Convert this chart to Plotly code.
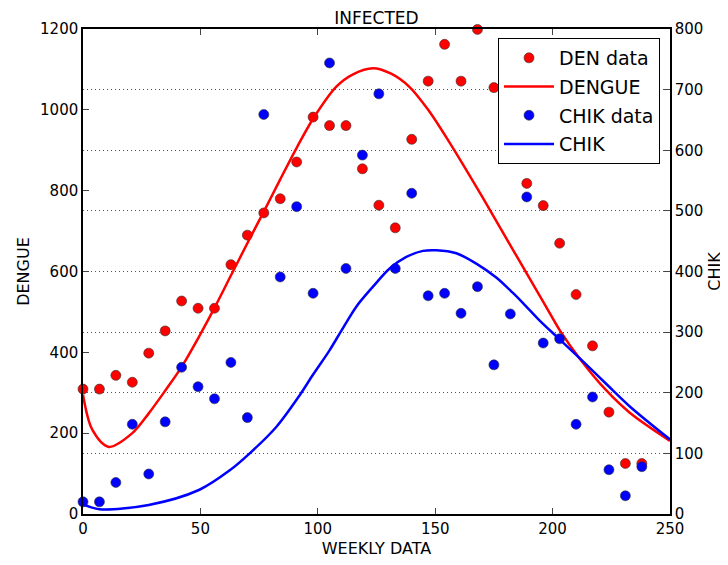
import plotly.graph_objects as go

# weekly observations (x in days, step 7)
weeks = [0, 7, 14, 21, 28, 35, 42, 49, 56, 63, 70, 77, 84, 91, 98, 105, 112, 119,
         126, 133, 140, 147, 154, 161, 168, 175, 182, 189, 196, 203, 210, 217, 224, 231, 238]
den_data = [309, 309, 343, 326, 398, 453, 527, 509, 509, 617, 690, 745, 780, 871, 982, 961, 961, 854,
            764, 708, 927, 1071, 1162, 1071, 1199, 1055, 990, 818, 763, 670, 543, 416, 252, 125, 125]
chik_data = [20, 20, 52, 148, 66, 152, 242, 210, 190, 250, 159, 659, 391, 507, 364, 744, 405, 592,
             693, 405, 529, 360, 364, 331, 375, 246, 330, 523, 282, 289, 148, 193, 73, 30, 78]

# fitted model curves
den_t = [0, 4, 11, 21, 28, 35, 42, 50, 56, 63, 70, 77, 84, 91, 98, 108, 115, 123.5, 131, 139,
         147, 156, 170, 183, 197, 203, 211.5, 223, 233, 250]
den_fit = [295, 208, 166, 200, 249, 305, 364, 445, 510, 590, 670, 748, 828, 906, 978, 1058, 1088, 1103,
           1090, 1057, 1000, 920, 785, 655, 515, 455, 385, 305, 250, 181]
chik_t = [0, 7, 28, 49.6, 62.5, 71, 82.4, 92.3, 98, 105, 110, 116.4, 123.5, 130.6, 137.7, 144.8,
          150.5, 159, 167.5, 176, 183, 187.4, 194.5, 203, 211.5, 223, 233, 250]
chik_fit = [16, 8, 15, 40, 72, 100, 144, 196, 230, 270, 302, 342, 375, 405, 424, 434,
            435, 430, 413, 390, 365, 348, 319, 288, 257, 214, 177, 123]

RED = "#ff0000"
BLUE = "#0000ff"
FONT = "DejaVu Sans"
DOTS = "1px,3px"
PAD = 8  # page body margin offsets the figure

fig = go.Figure()

fig.add_trace(go.Scatter(x=weeks, y=den_data, mode="markers", name="DEN data", cliponaxis=False,
                         legendgroup="a",
                         marker=dict(color=RED, size=10, line=dict(color="#333", width=0.6))))
fig.add_trace(go.Scatter(x=den_t, y=den_fit, mode="lines", name="DENGUE", legendgroup="b",
                         line=dict(color=RED, width=2.5, shape="spline", smoothing=0.9)))
fig.add_trace(go.Scatter(x=weeks, y=chik_data, mode="markers", name="CHIK data", yaxis="y2",
                         cliponaxis=False, legendgroup="c",
                         marker=dict(color=BLUE, size=10, line=dict(color="#333", width=0.6))))
fig.add_trace(go.Scatter(x=chik_t, y=chik_fit, mode="lines", name="CHIK", yaxis="y2",
                         legendgroup="d",
                         line=dict(color=BLUE, width=2.5, shape="spline", smoothing=0.9)))

fig.update_layout(
    width=728, height=565,
    margin=dict(l=83 - PAD, r=58 + PAD, t=29 - PAD, b=51 + PAD),
    paper_bgcolor="white", plot_bgcolor="white",
    font=dict(family=FONT, size=15, color="black"),
    title=dict(text="INFECTED", x=0.5, xref="paper", y=1 - (18 - PAD) / 565, yanchor="middle",
               font=dict(size=17)),
    xaxis=dict(range=[0, 250], tickvals=[0, 50, 100, 150, 200, 250], ticks="inside", ticklen=6,
               showline=True, linecolor="black", linewidth=1.5, mirror="ticks", showgrid=False,
               zeroline=False, automargin=False,
               title=dict(text="WEEKLY DATA", standoff=6, font=dict(size=16))),
    yaxis=dict(range=[0, 1200], tickvals=[0, 200, 400, 600, 800, 1000, 1200], ticks="inside",
               ticklen=6, showline=True, linecolor="black", linewidth=1.5, showgrid=False,
               zeroline=False, automargin=False,
               title=dict(text="DENGUE", standoff=6, font=dict(size=16))),
    yaxis2=dict(range=[0, 800], tickvals=[0, 100, 200, 300, 400, 500, 600, 700, 800],
                overlaying="y", side="right", ticks="inside", ticklen=6, showline=True,
                linecolor="black", linewidth=1.5, showgrid=True, gridcolor="#555", griddash=DOTS,
                gridwidth=1, zeroline=False, automargin=False,
                title=dict(text="CHIK", standoff=6, font=dict(size=16))),
    legend=dict(x=(660 - 83) / 587, xanchor="right", y=(514 - 38) / 485, yanchor="top",
                bgcolor="white", bordercolor="black", borderwidth=1, font=dict(size=19),
                tracegroupgap=1, itemwidth=50),
    showlegend=True,
)

fig.write_html("out.html")
